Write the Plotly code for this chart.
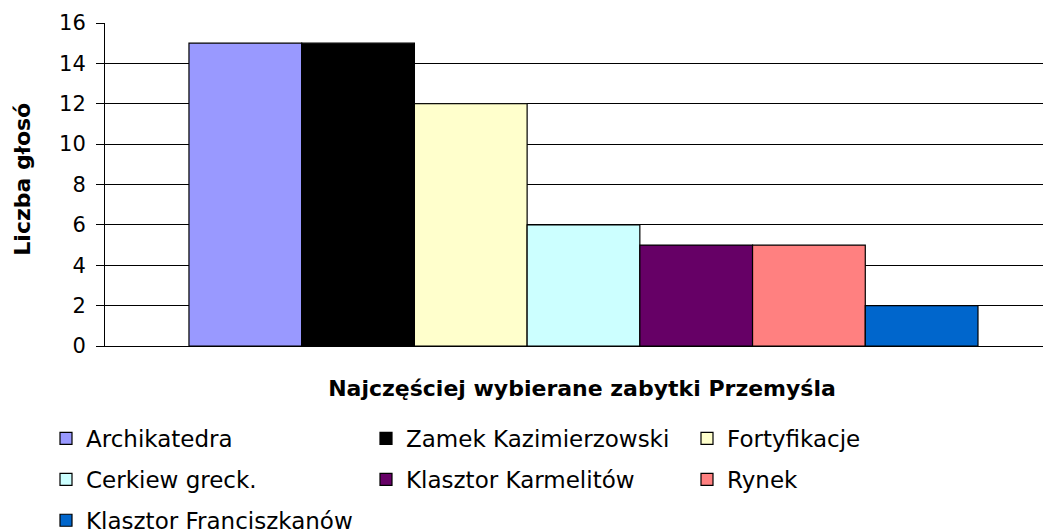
import plotly.graph_objects as go

categories = ["Zabytki"]
names = ["Archikatedra", "Zamek Kazimierzowski", "Fortyfikacje",
         "Cerkiew greck.", "Klasztor Karmelitów", "Rynek",
         "Klasztor Franciszkanów"]
values = [15, 15, 12, 6, 5, 5, 2]
colors = ["#9999FF", "#000000", "#FFFFCC", "#CCFFFF", "#660066", "#FF8080", "#0066CC"]
legend_ids = ["legend", "legend2", "legend3", "legend", "legend2", "legend3", "legend"]
y_ticks = [0, 2, 4, 6, 8, 10, 12, 14, 16]
x_title = "Najczęściej wybierane zabytki Przemyśla"
y_title = "Liczba głosó"

FONT = "DejaVu Sans, Liberation Sans, Arial, sans-serif"
W, H = 1051, 531

fig = go.Figure()
for i, (n, v, c, lg) in enumerate(zip(names, values, colors, legend_ids)):
    fig.add_trace(go.Bar(
        x=categories, y=[v], name=n, legend=lg, legendgroup="g%d" % i,
        marker=dict(color=c, line=dict(color="#000000", width=1.2)),
    ))

def leg(xpx):
    return dict(
        orientation="v", xref="container", yref="container",
        x=xpx / W, y=1 - 409 / H, xanchor="left", yanchor="top",
        font=dict(family=FONT, size=23, color="#000000"),
        bgcolor="rgba(0,0,0,0)", traceorder="grouped", tracegroupgap=8,
    )

fig.update_layout(
    width=W, height=H,
    margin=dict(l=97, r=0, t=15, b=193, autoexpand=False),
    paper_bgcolor="white", plot_bgcolor="white",
    barmode="group", bargap=0.1755, bargroupgap=0,
    font=dict(family=FONT, size=21, color="#000000"),
    legend=leg(38), legend2=leg(358), legend3=leg(679),
    xaxis=dict(
        range=[-0.5, 0.4969], showticklabels=False, ticks="",
        showline=True, linecolor="#000000", linewidth=1,
        showgrid=False, zeroline=False,
        title=dict(text="<b>%s</b>" % x_title,
                   font=dict(family=FONT, size=22), standoff=34),
    ),
    yaxis=dict(
        range=[0, 16], tickvals=y_ticks, ticks="outside", ticklen=8,
        tickcolor="#000000", tickwidth=1,
        showline=True, linecolor="#000000", linewidth=1,
        showgrid=True, gridcolor="#000000", gridwidth=1, zeroline=False,
        tickfont=dict(family=FONT, size=21),
        ticklabelstandoff=6,
    ),
    annotations=[dict(
        text="<b>%s</b>" % y_title, textangle=-90,
        xref="paper", yref="paper", x=(15 - 97) / 954, y=0.515,
        xanchor="center", yanchor="middle", showarrow=False,
        font=dict(family=FONT, size=22, color="#000000"),
    )],
)

fig.write_html("out.html")
